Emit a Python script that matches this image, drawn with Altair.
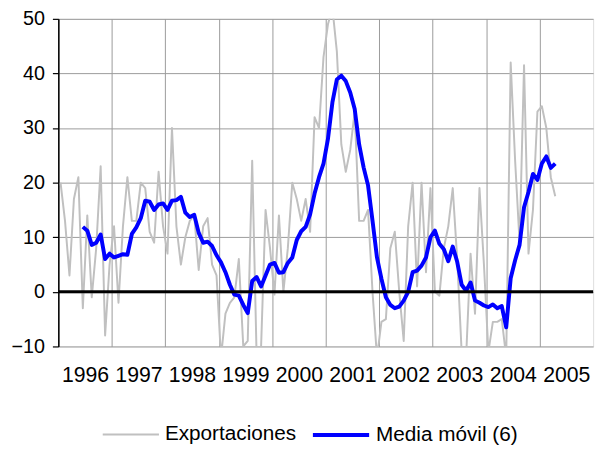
import altair as alt
import pandas as pd

# Year labels shown under each 12‑month band
years = ["1996", "1997", "1998", "1999", "2000", "2001", "2002", "2003", "2004", "2005"]

# Monthly export series (gray)
exportaciones = [
    20, 13, 3, 17, 21, -3, 14, -1, 8, 23,
    -8, 5, 12, -2, 12, 21, 13, 13, 20, 19,
    11, 9, 22, 12, 7, 30, 12, 5, 10, 13,
    14, 4, 12, 13.5, 5, 3, -12, -4, -2, -1,
    6, -10, -9, 24, -12, -10, 15, 8, -0.5, 14,
    0, 8, 20, 17, 13, 17, 11, 32, 30, 43,
    49, 52, 44, 27, 22, 26, 33, 13, 13, 15,
    0, -12, -5.5, -5, 8, 11, 0, -9, 12, 20,
    1, 20, 3.6, 19, 0, -0.7, 8, 12, 19, 6,
    -11, -12, 7, -4, 19, 5, -11, -5.5, -5.5, -5,
    -12, 42, 24, 9, 41.5, 7, 15, 33, 34, 30,
    21, 17.5,
]

# 6-month moving average (blue), starting at the 6th month
media_start = 5
media_movil = [
    11.9, 11.2, 8.6, 9.0, 10.5, 6.0, 7.0, 6.3, 6.6, 6.9,
    6.8, 10.6, 11.8, 13.5, 16.7, 16.5, 15.0, 16.0, 16.2, 15.0,
    16.7, 16.8, 17.4, 14.5, 13.7, 14.1, 10.8, 9.0, 9.2, 8.4,
    6.7, 5.4, 3.6, 1.3, -0.5, -0.7, -2.4, -3.9, 2.0, 2.7,
    1.0, 3.0, 5.0, 5.3, 3.5, 3.6, 5.3, 6.3, 9.5, 11.1,
    11.9, 14.2, 18.0, 21.0, 23.5, 28.0, 34.7, 38.9, 39.6, 38.6,
    36.5, 33.5, 27.0, 22.8, 19.5, 13.0, 6.3, 2.4, -1.0, -2.4,
    -3.0, -2.7, -1.6, 0.0, 3.6, 3.9, 4.8, 6.3, 10.0, 11.2,
    8.8, 7.8, 5.6, 8.3, 5.5, 1.3, 0.2, 1.7, -1.6, -2.0,
    -2.5, -2.8, -2.3, -3.0, -2.6, -6.5, 2.5, 5.8, 8.6, 15.5,
    18.3, 21.6, 20.5, 23.5, 24.8, 22.7, 23.5,
]

series_names = ["Exportaciones", "Media móvil (6)"]
series_colors = ["#C0C0C0", "#0000FF"]
series_widths = [2, 4]

rows = []
for i, v in enumerate(exportaciones):
    rows.append({"mes": i + 0.5, "valor": v, "serie": series_names[0]})
for k, v in enumerate(media_movil):
    rows.append({"mes": media_start + k + 0.5, "valor": v, "serie": series_names[1]})
df = pd.DataFrame(rows)

n_months = 12 * len(years)
year_ticks = [12 * k for k in range(len(years))]
label_expr = "'' + (" + years[0] + " + datum.value / 12)"

x_enc = alt.X(
    "mes:Q",
    scale=alt.Scale(domain=[0, n_months], nice=False, zero=False),
    axis=alt.Axis(
        values=year_ticks,
        labelExpr=label_expr,
        labelOffset=27,
        labelOverlap=False,
        labelFlush=False,
        ticks=False,
        domain=False,
        grid=True,
        gridColor="#9a9a9a",
        gridWidth=1,
        labelFont="Liberation Sans",
        labelFontSize=21.5,
        labelColor="#000000",
        labelPadding=19,
        title=None,
    ),
)
y_enc = alt.Y(
    "valor:Q",
    scale=alt.Scale(domain=[-10, 50], nice=False, zero=False),
    axis=alt.Axis(
        values=[-10, 0, 10, 20, 30, 40, 50],
        grid=True,
        gridColor="#9a9a9a",
        gridWidth=1,
        domainColor="#000000",
        domainWidth=1.5,
        tickColor="#000000",
        tickSize=6,
        tickWidth=1.2,
        labelFont="Liberation Sans",
        labelFontSize=20,
        labelColor="#000000",
        labelPadding=8,
        labelOverlap=False,
        title=None,
    ),
)

legend_cfg = dict(
    title=None,
    orient="none",
    direction="horizontal",
    legendX=44,
    legendY=391,
    symbolType="stroke",
    symbolSize=3249,
    labelFont="Liberation Sans",
    labelFontSize=21,
    labelColor="#000000",
    labelOffset=5,
    columnPadding=8,
    padding=0,
)

lines = alt.Chart(df).mark_line(clip=True, strokeJoin="round").encode(
    x=x_enc,
    y=y_enc,
    color=alt.Color(
        "serie:N",
        scale=alt.Scale(domain=series_names, range=series_colors),
        legend=alt.Legend(**legend_cfg),
    ),
    strokeWidth=alt.StrokeWidth(
        "serie:N",
        scale=alt.Scale(domain=series_names, range=series_widths),
        legend=alt.Legend(**legend_cfg),
    ),
)

zero_line = alt.Chart(pd.DataFrame({"valor": [0]})).mark_rule(
    color="#000000", strokeWidth=3
).encode(y=alt.Y("valor:Q"))

chart = (
    alt.layer(lines, zero_line)
    .properties(
        width=542,
        height=332,
        autosize=alt.AutoSizeParams(type="none"),
        padding={"left": 51, "top": 8, "right": 9, "bottom": 106},
    )
    .configure_view(fill="#FFFFCC", stroke="#808080", strokeWidth=2)
    .configure(background="#FFFFFF")
)

chart.save("out.html", embed_options={"renderer": "svg", "actions": False})
